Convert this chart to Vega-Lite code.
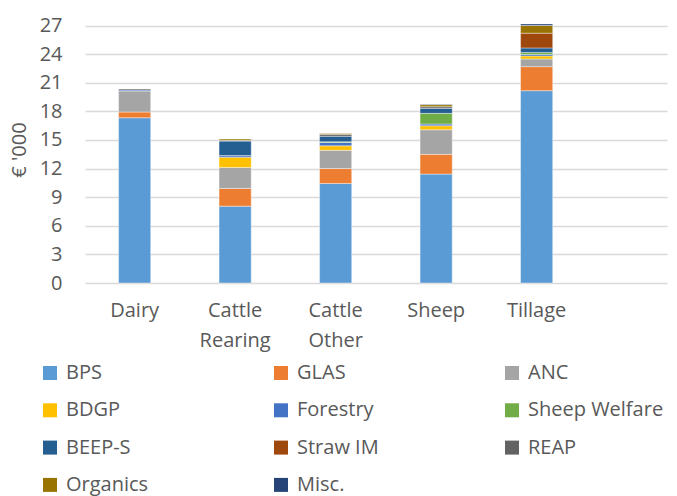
{
  "$schema": "https://vega.github.io/schema/vega-lite/v6.json",
  "width": 582,
  "height": 267,
  "autosize": "none",
  "padding": {"left": 85, "top": 16, "right": 10, "bottom": 213},
  "background": "#ffffff",
  "config": {
    "view": {"stroke": null},
    "font": "Open Sans",
    "axis": {"labelFont": "Open Sans", "titleFont": "Open Sans", "labelColor": "#595959", "titleColor": "#595959"},
    "legend": {"labelFont": "Open Sans"}
  },
  "data": {
    "values": [
      {"category": "Dairy", "scheme": "BPS", "k": 1, "value": 17.33},
      {"category": "Dairy", "scheme": "GLAS", "k": 2, "value": 0.6},
      {"category": "Dairy", "scheme": "ANC", "k": 3, "value": 2.21},
      {"category": "Dairy", "scheme": "Forestry", "k": 5, "value": 0.1},
      {"category": "Dairy", "scheme": "REAP", "k": 9, "value": 0.11},
      {"category": "Cattle Rearing", "scheme": "BPS", "k": 1, "value": 8.06},
      {"category": "Cattle Rearing", "scheme": "GLAS", "k": 2, "value": 1.86},
      {"category": "Cattle Rearing", "scheme": "ANC", "k": 3, "value": 2.2},
      {"category": "Cattle Rearing", "scheme": "BDGP", "k": 4, "value": 1.08},
      {"category": "Cattle Rearing", "scheme": "Forestry", "k": 5, "value": 0.16},
      {"category": "Cattle Rearing", "scheme": "BEEP-S", "k": 7, "value": 1.52},
      {"category": "Cattle Rearing", "scheme": "REAP", "k": 9, "value": 0.08},
      {"category": "Cattle Rearing", "scheme": "Organics", "k": 10, "value": 0.13},
      {"category": "Cattle Other", "scheme": "BPS", "k": 1, "value": 10.44},
      {"category": "Cattle Other", "scheme": "GLAS", "k": 2, "value": 1.56},
      {"category": "Cattle Other", "scheme": "ANC", "k": 3, "value": 1.91},
      {"category": "Cattle Other", "scheme": "BDGP", "k": 4, "value": 0.48},
      {"category": "Cattle Other", "scheme": "Forestry", "k": 5, "value": 0.35},
      {"category": "Cattle Other", "scheme": "Sheep Welfare", "k": 6, "value": 0.07},
      {"category": "Cattle Other", "scheme": "BEEP-S", "k": 7, "value": 0.58},
      {"category": "Cattle Other", "scheme": "REAP", "k": 9, "value": 0.2},
      {"category": "Cattle Other", "scheme": "Organics", "k": 10, "value": 0.08},
      {"category": "Sheep", "scheme": "BPS", "k": 1, "value": 11.42},
      {"category": "Sheep", "scheme": "GLAS", "k": 2, "value": 2.07},
      {"category": "Sheep", "scheme": "ANC", "k": 3, "value": 2.58},
      {"category": "Sheep", "scheme": "BDGP", "k": 4, "value": 0.42},
      {"category": "Sheep", "scheme": "Forestry", "k": 5, "value": 0.18},
      {"category": "Sheep", "scheme": "Sheep Welfare", "k": 6, "value": 1.12},
      {"category": "Sheep", "scheme": "BEEP-S", "k": 7, "value": 0.53},
      {"category": "Sheep", "scheme": "REAP", "k": 9, "value": 0.17},
      {"category": "Sheep", "scheme": "Organics", "k": 10, "value": 0.21},
      {"category": "Sheep", "scheme": "Misc.", "k": 11, "value": 0.05},
      {"category": "Tillage", "scheme": "BPS", "k": 1, "value": 20.17},
      {"category": "Tillage", "scheme": "GLAS", "k": 2, "value": 2.52},
      {"category": "Tillage", "scheme": "ANC", "k": 3, "value": 0.81},
      {"category": "Tillage", "scheme": "BDGP", "k": 4, "value": 0.31},
      {"category": "Tillage", "scheme": "Forestry", "k": 5, "value": 0.16},
      {"category": "Tillage", "scheme": "Sheep Welfare", "k": 6, "value": 0.21},
      {"category": "Tillage", "scheme": "BEEP-S", "k": 7, "value": 0.47},
      {"category": "Tillage", "scheme": "Straw IM", "k": 8, "value": 1.55},
      {"category": "Tillage", "scheme": "Organics", "k": 10, "value": 0.8},
      {"category": "Tillage", "scheme": "Misc.", "k": 11, "value": 0.17}
    ]
  },
  "mark": {"type": "bar", "stroke": "#ffffff", "strokeWidth": 0.4},
  "encoding": {
    "x": {
      "field": "category",
      "type": "nominal",
      "sort": ["Dairy", "Cattle Rearing", "Cattle Other", "Sheep", "Tillage"],
      "scale": {"paddingInner": 0.68, "paddingOuter": 0.7355, "align": 0.227},
      "axis": {
        "title": null,
        "domain": false,
        "ticks": false,
        "labelAngle": 0,
        "labelFontSize": 20,
        "labelPadding": 17,
        "labelLineHeight": 30,
        "labelBaseline": "top",
        "labelExpr": "split(datum.value, ' ')"
      }
    },
    "y": {
      "field": "value",
      "type": "quantitative",
      "aggregate": "sum",
      "stack": "zero",
      "scale": {"domain": [0, 28], "nice": false},
      "axis": {
        "title": "€ '000",
        "titleFontSize": 20,
        "titleFontWeight": "normal",
        "titlePadding": 10,
        "values": [0, 3, 6, 9, 12, 15, 18, 21, 24, 27],
        "domain": false,
        "ticks": false,
        "labelFontSize": 20,
        "labelPadding": 23,
        "gridColor": "#D9D9D9",
        "gridWidth": 1.3
      }
    },
    "order": {"field": "k", "type": "quantitative", "sort": "ascending"},
    "color": {
      "field": "scheme",
      "type": "nominal",
      "scale": {
        "domain": ["BPS", "GLAS", "ANC", "BDGP", "Forestry", "Sheep Welfare", "BEEP-S", "Straw IM", "REAP", "Organics", "Misc."],
        "range": ["#5B9BD5", "#ED7D31", "#A5A5A5", "#FFC000", "#4472C4", "#70AD47", "#255E91", "#9E480E", "#636363", "#997300", "#264478"]
      },
      "legend": {
        "title": null,
        "orient": "none",
        "legendX": -45,
        "legendY": 347,
        "direction": "horizontal",
        "columns": 3,
        "gridAlign": "all",
        "columnPadding": 69,
        "rowPadding": 17.3,
        "padding": 0,
        "symbolType": "square",
        "symbolSize": 196,
        "symbolStrokeWidth": 0,
        "labelFontSize": 20,
        "labelColor": "#595959",
        "labelOffset": 6,
        "labelLimit": 220
      }
    }
  }
}
